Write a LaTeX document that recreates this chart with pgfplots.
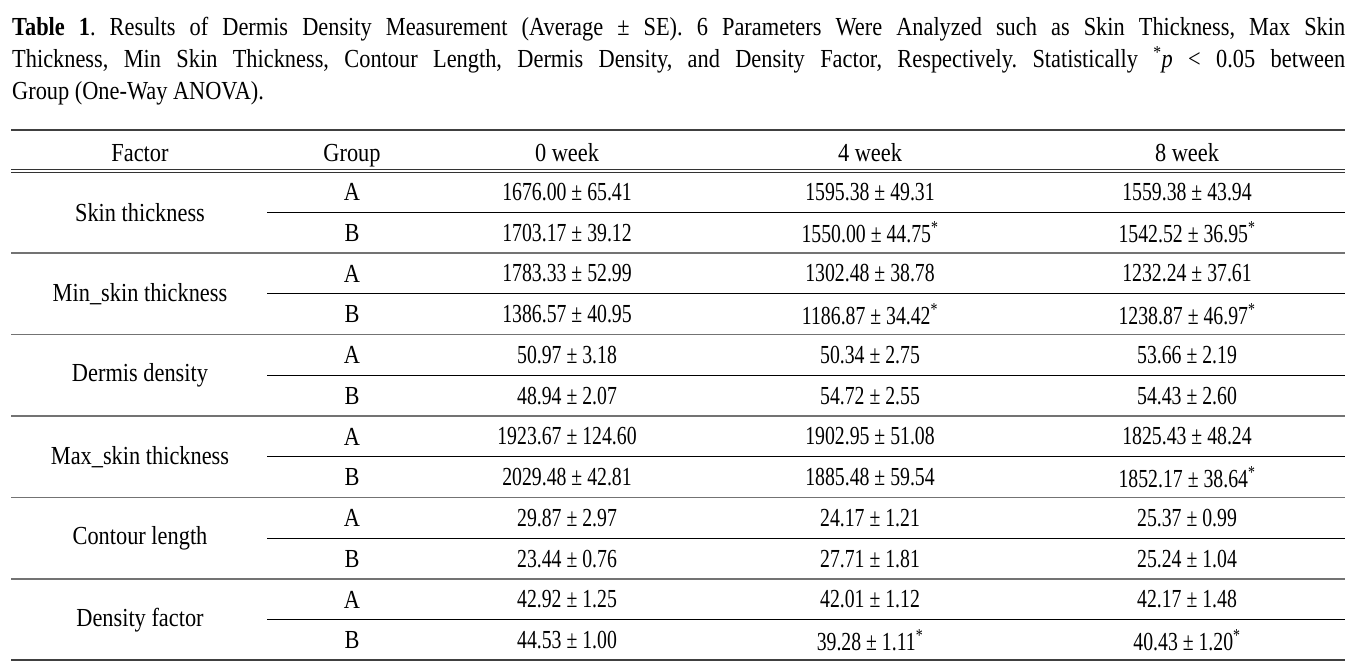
\documentclass[border=0pt]{standalone}
\usepackage{pgfplots}
\pgfplotsset{compat=1.18}
\usepackage{pgfplotstable}
\usepackage{fontspec}
\setmainfont{Liberation Serif}[FakeStretch=0.86]
\newfontfamily\numfont{Liberation Serif}[FakeStretch=0.76]
\newcommand{\s}{\textsuperscript{*}}
\newcommand{\bigfont}{\fontsize{26bp}{32bp}\selectfont}
\frenchspacing

% rows: y position (px from top), group, 0 / 4 / 8 week
\pgfplotstableread[col sep=comma]{
y,g,w0,w4,w8
192.0,A,1676.00 ± 65.41,1595.38 ± 49.31,1559.38 ± 43.94
232.7,B,1703.17 ± 39.12,1550.00 ± 44.75\s,1542.52 ± 36.95\s
273.5,A,1783.33 ± 52.99,1302.48 ± 38.78,1232.24 ± 37.61
314.2,B,1386.57 ± 40.95,1186.87 ± 34.42\s,1238.87 ± 46.97\s
355.0,A,50.97 ± 3.18,50.34 ± 2.75,53.66 ± 2.19
395.7,B,48.94 ± 2.07,54.72 ± 2.55,54.43 ± 2.60
436.5,A,1923.67 ± 124.60,1902.95 ± 51.08,1825.43 ± 48.24
477.2,B,2029.48 ± 42.81,1885.48 ± 59.54,1852.17 ± 38.64\s
518.0,A,29.87 ± 2.97,24.17 ± 1.21,25.37 ± 0.99
558.7,B,23.44 ± 0.76,27.71 ± 1.81,25.24 ± 1.04
599.5,A,42.92 ± 1.25,42.01 ± 1.12,42.17 ± 1.48
640.2,B,44.53 ± 1.00,39.28 ± 1.11\s,40.43 ± 1.20\s
}\rows

\pgfplotstableread[col sep=comma]{
y,f
212.3,Skin thickness
293.8,Min\_skin thickness
375.3,Dermis density
456.8,Max\_skin thickness
538.3,Contour length
619.8,Density factor
}\factors

\begin{document}
\begin{tikzpicture}[font=\bigfont]
\begin{axis}[
    scale only axis,
    width=1365bp, height=663bp,
    xmin=0, xmax=1365, ymin=0, ymax=663,
    y dir=reverse,
    hide axis,
    clip=false,
    nodes near coords align={center},
    every node near coord/.append style={inner sep=0pt, black, font=\bigfont},
]
\path (axis cs:0,0) rectangle (axis cs:1365,663);

% caption
\node[anchor=north west, inner sep=0pt, text width=1333bp, align=justify]
  at (axis cs:12,17)
  {\textbf{Table 1}. Results of Dermis Density Measurement (Average ± SE). 6 Parameters Were Analyzed such as Skin Thickness, Max Skin\linebreak
  Thickness, Min Skin Thickness, Contour Length, Dermis Density, and Density Factor, Respectively. Statistically \s\textit{p} < 0.05 between\linebreak
  Group (One-Way ANOVA).};

% header
\node[anchor=base] at (axis cs:140,161) {Factor};
\node[anchor=base] at (axis cs:352,161) {Group};
\node[anchor=base] at (axis cs:567,161) {0 week};
\node[anchor=base] at (axis cs:870,161) {4 week};
\node[anchor=base] at (axis cs:1187,161) {8 week};

% rules
\addplot[black!75, line width=2bp] coordinates {(11,130) (1345,130)};
\addplot[black!80, line width=1bp] coordinates {(11,169.5) (1345,169.5)};
\addplot[black!80, line width=1bp] coordinates {(11,172.8) (1345,172.8)};
\addplot[black!75, line width=2bp] coordinates {(11,660) (1345,660)};
\foreach \yy in {253,334.5,416,497.5,579} {
  \edef\tmp{\noexpand\addplot[black!55, line width=1.6bp] coordinates {(11,\yy) (1345,\yy)};}
  \tmp
}
\foreach \yy in {212.3,293.8,375.3,456.8,538.3,619.8} {
  \edef\tmp{\noexpand\addplot[black, line width=0.9bp] coordinates {(267,\yy) (1345,\yy)};}
  \tmp
}

% cells
\addplot[draw=none, nodes near coords, point meta=explicit symbolic]
  table[x expr=140, y=y, meta=f] {\factors};
\addplot[draw=none, nodes near coords, point meta=explicit symbolic]
  table[x expr=352, y=y, meta=g] {\rows};
\addplot[draw=none, nodes near coords, point meta=explicit symbolic,
  every node near coord/.append style={font=\bigfont\numfont}]
  table[x expr=567, y=y, meta=w0] {\rows};
\addplot[draw=none, nodes near coords, point meta=explicit symbolic,
  every node near coord/.append style={font=\bigfont\numfont}]
  table[x expr=870, y=y, meta=w4] {\rows};
\addplot[draw=none, nodes near coords, point meta=explicit symbolic,
  every node near coord/.append style={font=\bigfont\numfont}]
  table[x expr=1187, y=y, meta=w8] {\rows};
\end{axis}
\end{tikzpicture}
\end{document}
